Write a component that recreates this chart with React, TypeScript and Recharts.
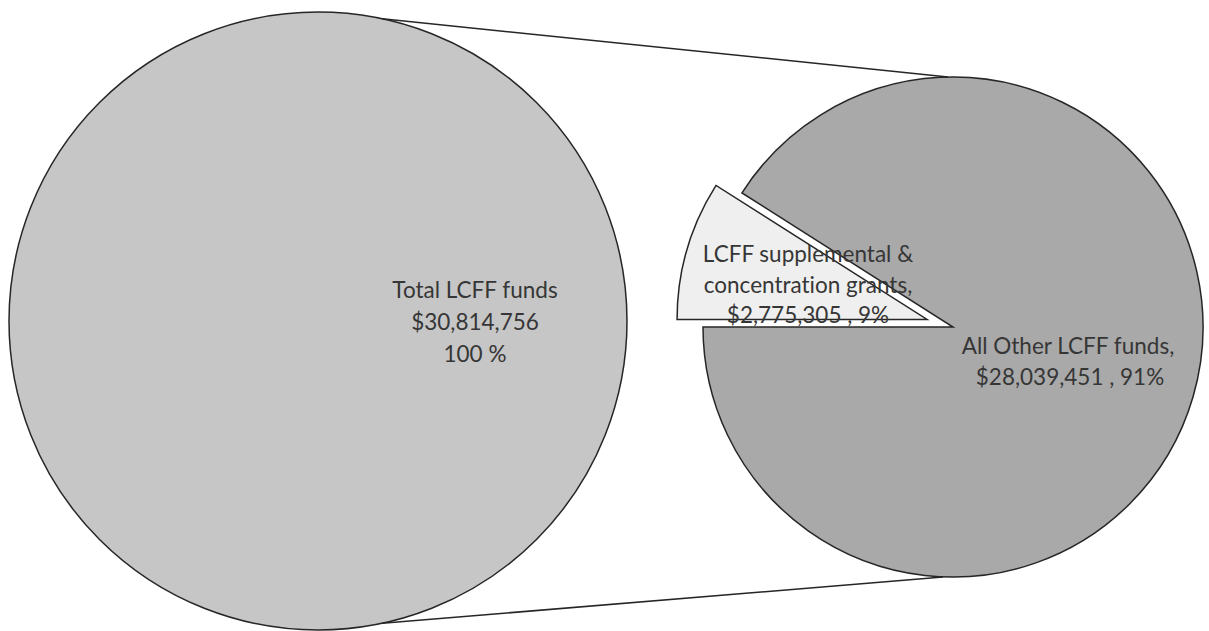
import React from 'react'
import { PieChart, Pie, Cell } from 'recharts'

// chart data
const leftNames = ['Total LCFF funds']
const leftValues = [30814756]
const leftPercents = ['100 %']

const rightNames = ['LCFF supplemental & concentration grants', 'All Other LCFF funds']
const rightValues = [2775305, 28039451]
const rightPercents = ['9%', '91%']

const leftData = leftNames.map((name, i) => ({ name, value: leftValues[i] }))
const rightData = rightNames.map((name, i) => ({ name, value: rightValues[i] }))

// layout
const W = 1209
const H = 631
const LEFT = { cx: 318, cy: 321, r: 309 }
const RIGHT = { cx: 953, cy: 327, r: 250 }
const EXPLODE = 27
const START = 180

const LINE = '#262626'
const TEXT = '#363636'
const FONT = 'Lato, "Noto Sans", sans-serif'

const fmt = (v: number) => '$' + v.toLocaleString('en-US')

// explode offset for first slice of right pie
const total = rightValues.reduce((a, b) => a + b, 0)
const mid = ((START - (rightValues[0] / total) * 360 / 2) * Math.PI) / 180
const exCx = RIGHT.cx + EXPLODE * Math.cos(mid)
const exCy = RIGHT.cy - EXPLODE * Math.sin(mid)

// lines + labels drawn on top of the chart
const Overlay = () => {
  const a = (78 * Math.PI) / 180
  const topStart = { x: LEFT.cx + LEFT.r * Math.cos(a), y: LEFT.cy - LEFT.r * Math.sin(a) }
  const botStart = { x: LEFT.cx + LEFT.r * Math.cos(a), y: LEFT.cy + LEFT.r * Math.sin(a) }
  const ts = {
    fontFamily: FONT,
    fontSize: 22.5,
    fill: TEXT,
    textAnchor: 'middle' as const,
    style: { fontVariantLigatures: 'none' as const },
  }
  return (
    <svg
      width={W}
      height={H}
      style={{ position: 'absolute', left: 0, top: 0, pointerEvents: 'none' }}
    >
      {/* outline of the full left pie (avoids radial seam) */}
      <circle cx={LEFT.cx} cy={LEFT.cy} r={LEFT.r} fill="none" stroke={LINE} strokeWidth={1.5} />

      {/* connector lines */}
      <line x1={topStart.x} y1={topStart.y} x2={RIGHT.cx - 5} y2={RIGHT.cy - RIGHT.r} stroke={LINE} strokeWidth={1.5} />
      <line x1={botStart.x} y1={botStart.y} x2={RIGHT.cx - 10} y2={RIGHT.cy + RIGHT.r} stroke={LINE} strokeWidth={1.5} />

      {/* left pie label */}
      <text {...ts}>
        <tspan x={475} y={298}>{leftNames[0]}</tspan>
        <tspan x={475} y={330}>{fmt(leftValues[0])}</tspan>
        <tspan x={475} y={362}>{leftPercents[0]}</tspan>
      </text>

      {/* exploded slice label */}
      <text {...ts}>
        <tspan x={808} y={262}>LCFF supplemental &amp;</tspan>
        <tspan x={808} y={293}>concentration grants,</tspan>
        <tspan x={808} y={323}>{fmt(rightValues[0]) + ' , ' + rightPercents[0]}</tspan>
      </text>

      {/* main slice label */}
      <text {...ts}>
        <tspan x={1068} y={354}>{rightNames[1] + ','}</tspan>
        <tspan x={1070} y={385}>{fmt(rightValues[1]) + ' , ' + rightPercents[1]}</tspan>
      </text>
    </svg>
  )
}

export default function App() {
  return (
    <div style={{ position: 'absolute', left: 0, top: 0, width: W, height: H, background: '#fff' }}>
      <PieChart width={W} height={H} margin={{ top: 0, right: 0, bottom: 0, left: 0 }}>
        <Pie
          data={leftData}
          dataKey="value"
          cx={LEFT.cx}
          cy={LEFT.cy}
          outerRadius={LEFT.r}
          startAngle={90}
          endAngle={-270}
          isAnimationActive={false}
        >
          {leftData.map((d, i) => (
            <Cell key={i} fill="#c6c6c6" stroke="none" />
          ))}
        </Pie>
        <Pie
          data={rightData}
          dataKey="value"
          cx={RIGHT.cx}
          cy={RIGHT.cy}
          outerRadius={RIGHT.r}
          startAngle={START}
          endAngle={START - 360}
          isAnimationActive={false}
        >
          {rightData.map((d, i) => (
            <Cell
              key={i}
              fill={i === 0 ? 'none' : '#a9a9a9'}
              stroke={i === 0 ? 'none' : LINE}
              strokeWidth={1.5}
            />
          ))}
        </Pie>
        <Pie
          data={rightData}
          dataKey="value"
          cx={exCx}
          cy={exCy}
          outerRadius={RIGHT.r}
          startAngle={START}
          endAngle={START - 360}
          isAnimationActive={false}
        >
          {rightData.map((d, i) => (
            <Cell
              key={i}
              fill={i === 0 ? '#efefef' : 'none'}
              stroke={i === 0 ? LINE : 'none'}
              strokeWidth={1.5}
            />
          ))}
        </Pie>
      </PieChart>
      <Overlay />
    </div>
  )
}
